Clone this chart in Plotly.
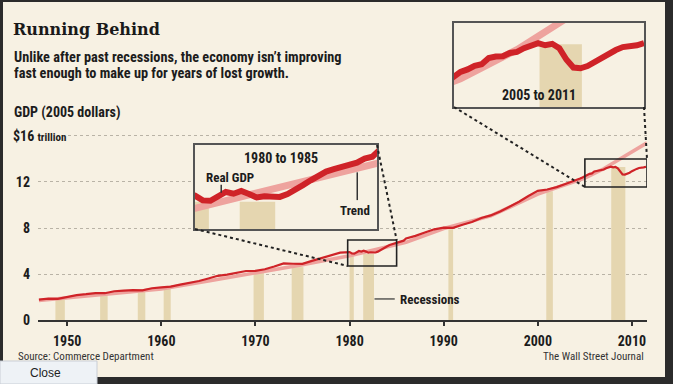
import plotly.graph_objects as go

W, H = 673, 384

# ---------------- data (real GDP, trillions of 2005 dollars) ----------------
annual_years = list(range(1947, 1980)) + list(range(1986, 2004))
annual_gdp = [1.776, 1.854, 1.845, 2.006, 2.162, 2.243, 2.345, 2.330, 2.500, 2.550,
              2.602, 2.578, 2.763, 2.831, 2.897, 3.072, 3.207, 3.392, 3.610, 3.845,
              3.943, 4.133, 4.262, 4.270, 4.413, 4.648, 4.918, 4.890, 4.880, 5.141,
              5.378, 5.678, 5.856,
              7.087, 7.314, 7.614, 7.886, 8.034, 8.015, 8.287, 8.523, 8.871, 9.094,
              9.434, 9.854, 10.284, 10.780, 11.226, 11.347, 11.553, 11.841]

quarters_80_85 = [f"{y}Q{q}" for y in range(1980, 1986) for q in range(1, 5)]
gdp_80_85 = [5.903, 5.782, 5.771, 5.878, 5.997, 5.953, 6.022, 5.948,
             5.857, 5.889, 5.867, 5.871, 5.945, 6.078, 6.172, 6.296,
             6.413, 6.521, 6.582, 6.638, 6.704, 6.746, 6.851, 6.900]

quarters_04_11 = [f"{y}Q{q}" for y in range(2004, 2012) for q in range(1, 5)][:31]
gdp_04_11 = [12.12, 12.22, 12.30, 12.40,
             12.54, 12.61, 12.71, 12.75,
             12.92, 12.96, 12.97, 13.06,
             13.09, 13.19, 13.27, 13.33,
             13.27, 13.31, 13.19, 12.88,
             12.66, 12.64, 12.70, 12.81,
             12.94, 13.06, 13.14, 13.22,
             13.23, 13.27, 13.33]

trend_years = [1947, 1955, 1960, 1965, 1970, 1975, 1980, 1986, 1990, 1995, 2000, 2005, 2007, 2011.6]
trend_gdp = [1.70, 2.35, 2.70, 3.40, 4.10, 4.80, 5.58, 6.75, 7.95, 9.05, 10.95, 12.35, 13.15, 15.4]

rec_start = [1948.75, 1953.5, 1957.5, 1960.25, 1969.8, 1973.85, 1980.0, 1981.45, 1990.5, 2000.9, 2007.8]
rec_end = [1949.75, 1954.3, 1958.3, 1961.0, 1970.9, 1975.1, 1980.45, 1982.6, 1991.0, 2001.6, 2009.3]
rec_height = [1.75, 2.3, 2.45, 2.7, 4.1, 4.6, 5.75, 5.75, 7.9, 11.2, 13.3]

x_ticks = [1950, 1960, 1970, 1980, 1990, 2000, 2010]
y_ticks = [0, 4, 8, 12, 16]
y_ticktext = ["0", "4", "8", "12", ""]

zoom1_x, zoom1_y = [1979.8, 1985.0], [4.7, 6.96]
zoom2_x, zoom2_y = [2005.0, 2011.6], [11.57, 14.0]

# ---------------- helpers ----------------
def q2year(q):
    y, n = q.split("Q")
    return int(y) + (int(n) - 1) / 4

years = []
gdp = []
for yr, v in zip(annual_years, annual_gdp):
    years.append(yr); gdp.append(v)
for q, v in zip(quarters_80_85, gdp_80_85):
    years.append(q2year(q)); gdp.append(v)
for q, v in zip(quarters_04_11, gdp_04_11):
    years.append(q2year(q)); gdp.append(v)
order = sorted(range(len(years)), key=lambda i: years[i])
years = [years[i] for i in order]
gdp = [gdp[i] for i in order]

rec_mid = [(a + b) / 2 for a, b in zip(rec_start, rec_end)]
rec_w = [b - a for a, b in zip(rec_start, rec_end)]

def px(x):
    return x / W

def py(y):
    return 1 - y / H

BG = "#f7f1e3"
RED = "#cf2328"
PINK = "#eea39e"
TAN = "#e5d6b0"
INK = "#1c1c1c"
NARROW = "Liberation Sans Narrow, Arial Narrow, Roboto Condensed, sans-serif"

Y0_PX, PX_PER_UNIT = 320, 11.5
main_yr = [0, 16.15]
main_xdom = [px(38), px(647)]
main_ydom = [py(Y0_PX), py(Y0_PX - main_yr[1] * PX_PER_UNIT)]
main_xr = [1946.9, 2011.6]
in1_xdom = [px(195), px(377)]
in1_ydom = [py(229), py(145)]
in1_xr = [1980.0, 1985.9]
in1_yr = [5.05, 7.2]
in2_xdom = [px(454), px(644)]
in2_ydom = [py(107), py(23)]
in2_xr = [2004.77, 2011.5]
in2_yr = [11.58, 13.88]

def to_paper(dom, rng, v):
    return dom[0] + (v - rng[0]) / (rng[1] - rng[0]) * (dom[1] - dom[0])

fig = go.Figure()

for xa, ya, lw_t, lw_r in [("x", "y", 3.6, 2.2), ("x2", "y2", 7, 6), ("x3", "y3", 7, 6)]:
    fig.add_trace(go.Bar(x=rec_mid, y=rec_height, width=rec_w, marker_color=TAN,
                         marker_line_width=0, xaxis=xa, yaxis=ya, hoverinfo="skip"))
    fig.add_trace(go.Scatter(x=trend_years, y=trend_gdp, mode="lines",
                             line=dict(color=PINK, width=lw_t), xaxis=xa, yaxis=ya,
                             hoverinfo="skip"))
    fig.add_trace(go.Scatter(x=years, y=gdp, mode="lines",
                             line=dict(color=RED, width=lw_r), xaxis=xa, yaxis=ya,
                             hoverinfo="skip"))

inset_axis = dict(showline=True, mirror=True, linecolor="#555", linewidth=2,
                  showticklabels=False, ticks="", showgrid=False, zeroline=False,
                  fixedrange=True, automargin=False)

fig.update_layout(
    template="none",
    width=W, height=H, margin=dict(l=0, r=0, t=0, b=0, pad=0), autosize=False,
    paper_bgcolor="#2b2b2b", plot_bgcolor=BG, showlegend=False, barmode="overlay",
    xaxis=dict(domain=main_xdom, range=main_xr, anchor="y", tickvals=x_ticks,
               ticks="outside", ticklen=4, tickwidth=1.5, tickcolor="#333",
               showline=True, linecolor="#333", linewidth=1.5, showgrid=False,
               zeroline=False, ticklabelstandoff=3, fixedrange=True, automargin=False,
               tickfont=dict(family=NARROW, size=14, color=INK, weight="bold")),
    yaxis=dict(domain=main_ydom, range=main_yr, anchor="x", tickvals=y_ticks,
               ticktext=y_ticktext, ticks="", showline=False, zeroline=False,
               showgrid=True, gridcolor="#b9b3a6", griddash="dot", gridwidth=1.2,
               ticklabelstandoff=7, fixedrange=True, automargin=False,
               tickfont=dict(family=NARROW, size=14, color=INK, weight="bold")),
    xaxis2=dict(domain=in1_xdom, range=in1_xr, anchor="y2", **inset_axis),
    yaxis2=dict(domain=in1_ydom, range=in1_yr, anchor="x2", **inset_axis),
    xaxis3=dict(domain=in2_xdom, range=in2_xr, anchor="y3", **inset_axis),
    yaxis3=dict(domain=in2_ydom, range=in2_yr, anchor="x3", **inset_axis),
)

shapes = []
# beige card inside the dark frame
shapes.append(dict(type="rect", xref="paper", yref="paper", x0=px(3), x1=px(665),
                   y0=py(377), y1=py(2), fillcolor=BG, line_width=0, layer="below"))
# zoom boxes in the main chart
for zx, zy in [(zoom1_x, zoom1_y), (zoom2_x, zoom2_y)]:
    shapes.append(dict(type="rect", xref="x", yref="y", x0=zx[0], x1=zx[1], y0=zy[0],
                       y1=zy[1], line=dict(color="#222", width=1.6), layer="above"))
# dotted connectors from insets to zoom boxes
conn = [
    ((in1_xdom[0], in1_ydom[0]), (zoom1_x[0], zoom1_y[0])),
    ((in1_xdom[1], in1_ydom[1]), (zoom1_x[1], zoom1_y[1])),
    ((in2_xdom[0], in2_ydom[0]), (zoom2_x[0], zoom2_y[0])),
    ((in2_xdom[1], in2_ydom[0]), (zoom2_x[1], zoom2_y[1])),
]
for (ax, ay), (dx, dy) in conn:
    shapes.append(dict(type="line", xref="paper", yref="paper", x0=ax, y0=ay,
                       x1=to_paper(main_xdom, main_xr, dx), y1=to_paper(main_ydom, main_yr, dy),
                       line=dict(color="#222", width=2, dash="dot"), layer="above"))
# leader lines for labels
shapes.append(dict(type="line", xref="x", yref="y", x0=1982.65, x1=1984.8, y0=1.83, y1=1.83,
                   line=dict(color="#333", width=1.2)))
shapes.append(dict(type="line", xref="x2", yref="y2", x0=1980.85, x1=1980.85, y0=6.18, y1=5.98,
                   line=dict(color="#333", width=1.5)))
shapes.append(dict(type="line", xref="x2", yref="y2", x0=1985.26, x1=1985.26, y0=6.5, y1=5.79,
                   line=dict(color="#333", width=1.5)))
# "Close" button of the page
shapes.append(dict(type="rect", xref="paper", yref="paper", x0=px(0), x1=px(97),
                   y0=py(384), y1=py(361), fillcolor="#eef2f6",
                   line=dict(color="#c9ced6", width=1), layer="above"))
fig.update_layout(shapes=shapes)

def ann(text, x, y, size=14, xanchor="left", family=NARROW, color=INK, **kw):
    fig.add_annotation(text=text, x=px(x), y=py(y), xref="paper", yref="paper",
                       showarrow=False, xanchor=xanchor, yanchor="middle",
                       font=dict(family=family, size=size, color=color), **kw)

ann("<b>Running Behind</b>", 11, 29, size=16, family="DejaVu Serif", color="#1a1a1a")
ann("<b>Unlike after past recessions, the economy isn’t improving</b>", 12, 57, size=14.3)
ann("<b>fast enough to make up for years of lost growth.</b>", 12, 73, size=14.3)
ann("<b>GDP (2005 dollars)</b>", 12, 112, size=14)
ann("<b>$16</b> <span style='font-size:11px'><b>trillion</b></span>", 11, 136, size=14,
    bgcolor=BG, borderpad=1)
ann("<b>1980 to 1985</b>", 281, 158, size=14, xanchor="center")
ann("<b>Real GDP</b>", 230, 177, size=13, xanchor="center")
ann("<b>Trend</b>", 355, 210, size=13, xanchor="center")
ann("<b>2005 to 2011</b>", 539, 95, size=14, xanchor="center")
ann("<b>Recessions</b>", 398, 299, size=13)
ann("Source: Commerce Department", 16, 356, size=11, color="#333")
ann("The Wall Street Journal", 646, 356, size=11, color="#333", xanchor="right")
ann("Close", 46, 373, size=12, xanchor="center", family="Liberation Sans, Arial, sans-serif",
    color="#222")

fig.write_html("out.html", config={"displayModeBar": False},
               post_script="document.body.style.margin='0px';document.body.style.overflow='hidden';")
